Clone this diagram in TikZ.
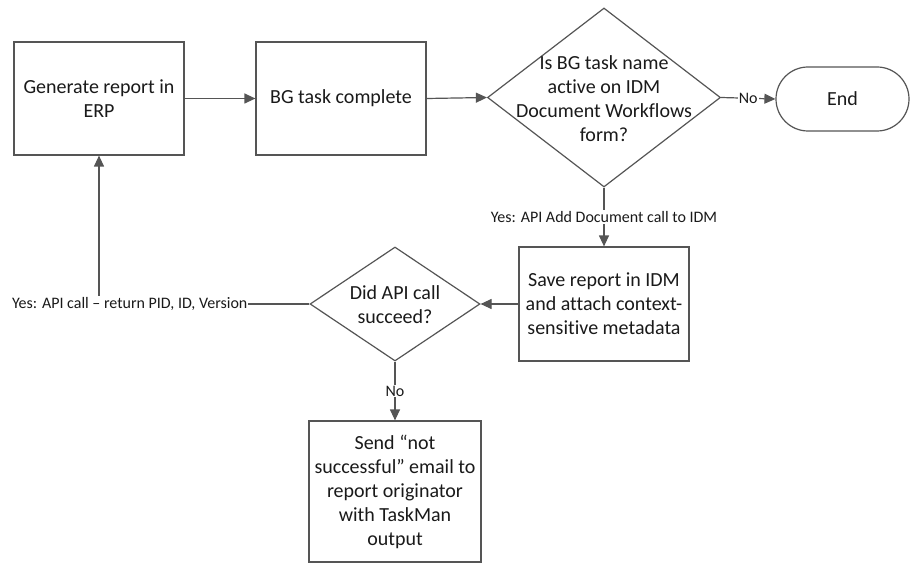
\documentclass[tikz,border=0pt]{standalone}
\usepackage{fontspec}
\setmainfont{Carlito}[Ligatures={NoCommon}]
\usetikzlibrary{shapes.geometric,arrows.meta}
\definecolor{lc}{HTML}{555555}
\definecolor{tc}{HTML}{1A1A1A}
\begin{document}
\begin{tikzpicture}[x=1pt,y=-1pt,
  bigtxt/.style={font=\fontsize{20}{24}\selectfont, text=tc, align=center},
  box/.style={draw=lc, line width=1.2pt, rectangle, inner sep=0pt, bigtxt},
  dia/.style={draw=lc, line width=1.2pt, diamond, inner sep=0pt},
  term/.style={draw=lc, line width=1.2pt, rectangle, rounded corners=32pt, inner sep=0pt, bigtxt},
  conn/.style={draw=lc, line width=1.2pt, -{Triangle[length=11pt,width=10pt]}},
  lbl/.style={font=\fontsize{16}{19}\selectfont, text=tc, fill=white, inner sep=1pt}
]
\useasboundingbox (0,0) rectangle (910,564);
\fill[white] (0,0) rectangle (910,564);

\node[box, minimum width=170pt, minimum height=113pt] (b1) at (99,98.5) {Generate report in\\ERP};
\node[box, minimum width=170pt, minimum height=113pt] (b2) at (341,98.5) {BG task complete};
\node[dia, minimum width=233pt, minimum height=179pt] (d1) at (604,97.5) {};
\node[bigtxt] (d1t) at (604,98.5) {Is BG task name\\active on IDM\\Document Workflows\\form?};
\node[term, minimum width=133pt, minimum height=64pt] (end) at (842.5,99) {End};
\node[box, minimum width=170pt, minimum height=114pt] (b3) at (604,304) {Save report in IDM\\and attach context-\\sensitive metadata};
\node[dia, minimum width=170pt, minimum height=114pt] (d2) at (395,304) {};
\node[bigtxt] (d2t) at (395,305) {Did API call\\succeed?};
\node[box, minimum width=172pt, minimum height=141pt] (b4) at (395,491.5) {Send “not\\successful” email to\\report originator\\with TaskMan\\output};

\draw[conn] (b1.east) -- (b2.west);
\draw[conn] (b2.east) -- (d1.west);
\draw[conn] (d1.east) -- node[lbl] {No} (end.west);
\draw[conn] (d1.south) -- node[lbl] {Yes: API Add Document call to IDM} (b3.north);
\draw[conn] (b3.west) -- (d2.east);
\draw[conn] (d2.south) -- node[lbl] {No} (b4.north);
\draw[conn] (d2.west) -| node[lbl, pos=0.427] {Yes: API call – return PID, ID, Version} (b1.south);
\end{tikzpicture}
\end{document}
